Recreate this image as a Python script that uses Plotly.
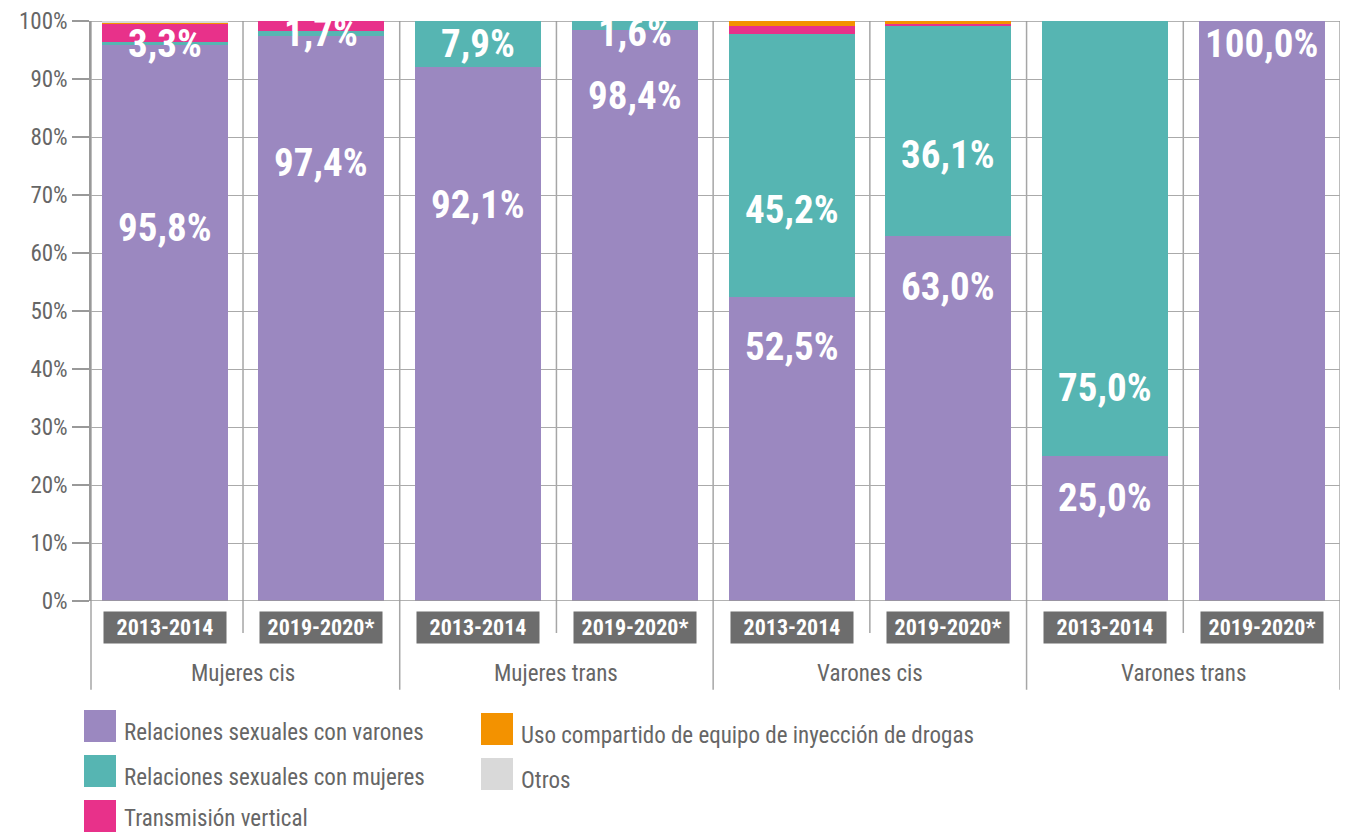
import plotly.graph_objects as go

groups = ["Mujeres cis", "Mujeres trans", "Varones cis", "Varones trans"]
periods = ["2013-2014", "2019-2020*"]
series_names = [
    "Relaciones sexuales con varones",
    "Relaciones sexuales con mujeres",
    "Transmisión vertical",
    "Uso compartido de equipo de inyección de drogas",
    "Otros",
]
colors = ["#9b88c0", "#56b5b2", "#e8318a", "#f39200", "#d9d9d9"]

varones = [95.8, 97.4, 92.1, 98.4, 52.5, 63.0, 25.0, 100.0]
mujeres = [0.5, 0.9, 7.9, 1.6, 45.2, 36.1, 75.0, 0.0]
vertical = [3.3, 1.7, 0.0, 0.0, 1.4, 0.4, 0.0, 0.0]
drogas = [0.2, 0.0, 0.0, 0.0, 0.9, 0.5, 0.0, 0.0]
otros = [0.2, 0.0, 0.0, 0.0, 0.0, 0.0, 0.0, 0.0]
series_values = [varones, mujeres, vertical, drogas, otros]

# labels: (bar index, series index, label y position in %)
labels = [
    (0, 0, 64.3), (0, 2, 96.0),
    (1, 0, 75.5), (1, 2, 97.9),
    (2, 0, 68.3), (2, 1, 96.0),
    (3, 0, 87.1), (3, 1, 97.9),
    (4, 0, 43.8), (4, 1, 67.4),
    (5, 0, 54.1), (5, 1, 76.9),
    (6, 0, 17.8), (6, 1, 36.7),
    (7, 0, 96.0),
]

FONT = "Roboto Condensed, Liberation Sans Narrow, Roboto, sans-serif"
x_cats = [f"{g} {p}" for g in groups for p in periods]

fig = go.Figure()
for name, vals, col in zip(series_names, series_values, colors):
    fig.add_trace(go.Bar(x=x_cats, y=vals, name=name, marker_color=col,
                         marker_line_width=0, showlegend=False))

def fmt(v):
    return f"{v:.1f}".replace(".", ",") + "%"

annotations = []
for bi, si, ly in labels:
    annotations.append(dict(x=x_cats[bi], y=ly, xref="x", yref="y", text=fmt(series_values[si][bi]),
                            showarrow=False, font=dict(family=FONT, size=39, color="white", weight="bold")))

# period boxes
for i, xc in enumerate(x_cats):
    annotations.append(dict(x=xc, y=-0.017, xref="x", yref="paper", yanchor="top",
                            text=periods[i % 2], showarrow=False, bgcolor="#6d6d6d",
                            width=122, height=31, borderpad=0,
                            font=dict(family=FONT, size=22, color="white", weight="bold")))
# group labels
for gi, g in enumerate(groups):
    annotations.append(dict(x=gi * 2 + 0.5, y=-0.125, xref="x", yref="paper", yanchor="middle",
                            text=g, showarrow=False, font=dict(family=FONT, size=23, color="#666666")))

shapes = []
# group separators (long) and within-group separators (short)
for k in range(0, 9):
    xpos = k - 0.5
    y0 = -0.153 if k % 2 == 0 else -0.055
    if k == 0:
        shapes.append(dict(type="line", xref="paper", yref="paper", x0=0, x1=0, y0=y0, y1=1,
                           line=dict(color="#a6a6a6", width=1.5), layer="below"))
    else:
        shapes.append(dict(type="line", xref="x", yref="paper", x0=xpos, x1=xpos, y0=y0, y1=1,
                           line=dict(color="#a6a6a6", width=1.5), layer="below"))

# custom legend
leg_pos = [(84, 710), (84, 755), (84, 800), (481, 713), (481, 758)]
W, H = 1345, 832
ml, mr, mt, mb = 91, 5, 21, 231
pw, ph = W - ml - mr, H - mt - mb
def px2paper(px, py):
    return (px - ml) / pw, (H - mb - py) / ph
for i, ((lx, ly), name, col) in enumerate(zip(leg_pos, series_names, colors)):
    x0, y0 = px2paper(lx, ly)
    x1, y1 = px2paper(lx + 32, ly + 32)
    shapes.append(dict(type="rect", xref="paper", yref="paper", x0=x0, x1=x1, y0=y1, y1=y0,
                       fillcolor=col, line_width=0))
    tx, ty = px2paper(lx + 38, ly + (18 if i == 2 else 22))
    annotations.append(dict(x=tx, y=ty, xref="paper", yref="paper", xanchor="left", yanchor="middle",
                            text=name, showarrow=False, font=dict(family=FONT, size=23, color="#666666")))

fig.update_layout(
    barmode="stack",
    bargap=0.196,
    width=W, height=H,
    margin=dict(l=ml, r=mr, t=mt, b=mb, autoexpand=False),
    plot_bgcolor="white", paper_bgcolor="white",
    showlegend=False,
    annotations=annotations,
    shapes=shapes,
    xaxis=dict(showticklabels=False, showgrid=False, zeroline=False, ticks="",
               range=[-0.47, 7.5], showline=False, automargin=False),
    yaxis=dict(range=[0, 100], dtick=10, ticksuffix="%", showgrid=True, gridcolor="#aaaaaa",
               gridwidth=1, zeroline=False, showline=True, linecolor="#999999", linewidth=1.5,
               ticks="outside", ticklen=17, tickcolor="#999999", tickwidth=1.5, automargin=False,
               tickfont=dict(family=FONT, size=23, color="#666666"), layer="below traces"),
)
fig.add_hline(y=0, line=dict(color="#999999", width=1.5))
fig.add_hline(y=100, line=dict(color="#999999", width=1.5), layer="below")
fig.write_html("out.html", config={"displayModeBar": False},
               post_script="document.body.style.margin='0';document.body.style.overflow='hidden';")
